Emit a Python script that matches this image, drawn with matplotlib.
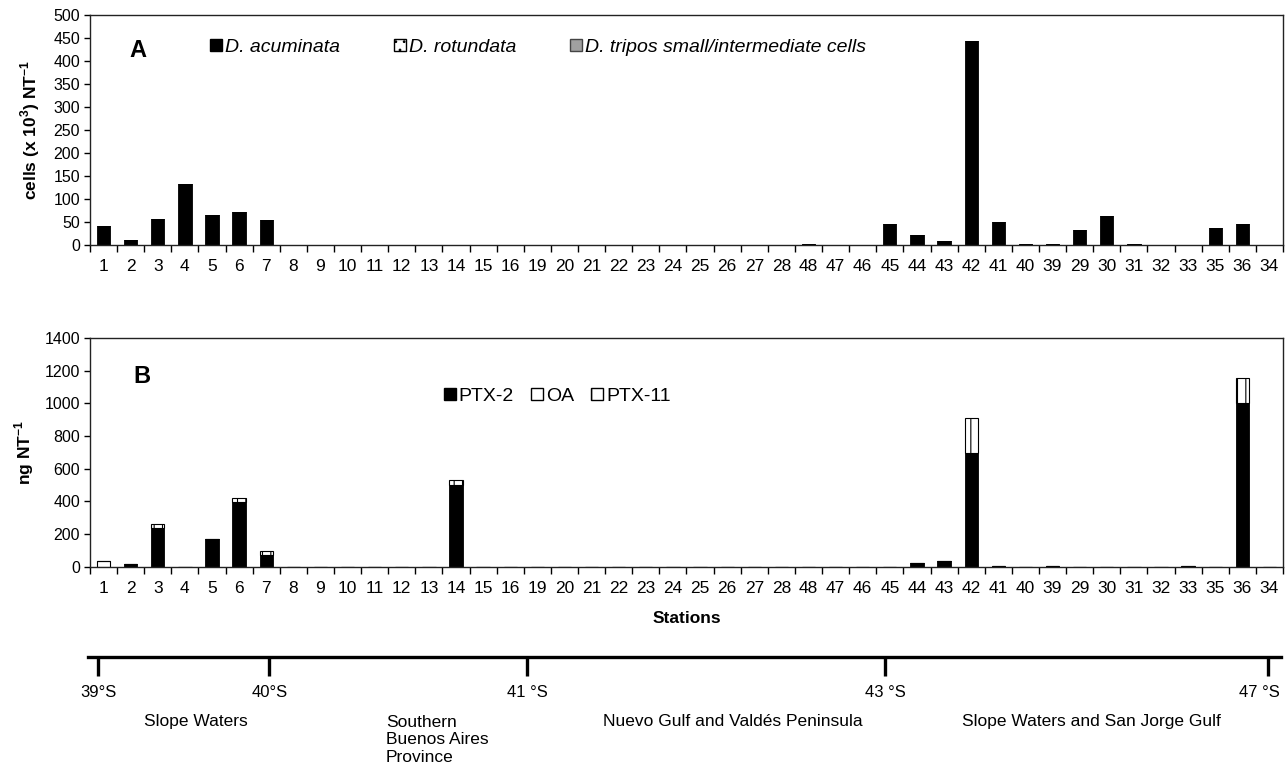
import matplotlib.pyplot as plt
import numpy as np
from matplotlib.patches import Patch
from matplotlib.transforms import ScaledTranslation

plt.rcParams['font.family'] = ['Liberation Sans', 'DejaVu Sans']
plt.rcParams['mathtext.fontset'] = 'custom'
plt.rcParams['mathtext.rm'] = 'Liberation Sans'
plt.rcParams['mathtext.bf'] = 'Liberation Sans:bold'
plt.rcParams['hatch.linewidth'] = 0.8

# stations in the order they appear along the coast
stations = ['1', '2', '3', '4', '5', '6', '7', '8', '9', '10', '11', '12', '13', '14', '15', '16',
            '19', '20', '21', '22', '23', '24', '25', '26', '27', '28',
            '48', '47', '46', '45', '44', '43', '42', '41', '40', '39',
            '29', '30', '31', '32', '33', '35', '36', '34']

# panel A: cells (x 10^3) per net tow
acuminata = [42, 12, 56, 133, 65, 72, 54, 0, 0, 0, 0, 0, 0, 0, 0, 0,
             0, 0, 0, 0, 0, 0, 0, 0, 0, 0,
             3, 0, 0, 45, 22, 9, 445, 51, 3, 3,
             33, 63, 3, 0, 0, 38, 45, 0]
rotundata = [0] * 44
tripos = [0] * 44

# panel B: toxins ng per net tow
ptx2 = [0, 15, 235, 0, 168, 395, 70, 0, 0, 0, 0, 0, 0, 500, 0, 0,
        0, 0, 0, 0, 0, 0, 0, 0, 0, 0,
        0, 0, 0, 0, 25, 35, 695, 5, 0, 5,
        0, 0, 0, 0, 5, 0, 1000, 0]
oa = [35, 0, 0, 0, 0, 0, 0, 0, 0, 0, 0, 0, 0, 0, 0, 0,
      0, 0, 0, 0, 0, 0, 0, 0, 0, 0,
      0, 0, 0, 0, 0, 0, 0, 0, 0, 0,
      0, 0, 0, 0, 0, 0, 0, 0]
ptx11 = [0, 0, 25, 0, 0, 25, 25, 0, 0, 0, 0, 0, 0, 30, 0, 0,
         0, 0, 0, 0, 0, 0, 0, 0, 0, 0,
         0, 0, 0, 0, 0, 0, 215, 0, 0, 0,
         0, 0, 0, 0, 0, 0, 155, 0]

# latitude scale below (position in station units)
lat_labels = ['39°S', '40°S', '41 °S', '43 °S', '47 °S']
lat_pos = [-0.2, 6.1, 15.6, 28.8, 42.9]
regions = ['Slope Waters', 'Southern\nBuenos Aires\nProvince',
           'Nuevo Gulf and Valdés Peninsula', 'Slope Waters and San Jorge Gulf']
region_pos = [3.4, 10.4, 23.2, 36.4]

x = np.arange(len(stations))
w = 0.49

fig = plt.figure(figsize=(12.87, 7.66), dpi=100)
axA = fig.add_axes([0.0699, 0.680, 0.9270, 0.300])
axB = fig.add_axes([0.0699, 0.2602, 0.9270, 0.2985])
axL = fig.add_axes([0.0684, 0.0, 0.9270, 0.1423])


def style_axis(ax):
    ax.set_xlim(-0.5, len(stations) - 0.5)
    ax.set_xticks(x)
    ax.set_xticklabels(stations)
    ax.set_xticks(np.arange(-0.5, len(stations)), minor=True)
    ax.tick_params(axis='x', which='major', length=0, pad=10, labelsize=12.5)
    ax.tick_params(axis='x', which='minor', length=5, width=1, direction='out')
    ax.tick_params(axis='y', length=4, width=1, pad=3, labelsize=11.5)
    for s in ax.spines.values():
        s.set_linewidth(1)
        s.set_color('#222222')


# Panel A
a0 = np.array(acuminata)
a1 = np.array(rotundata)
a2 = np.array(tripos)
axA.bar(x, a0, w, color='black', edgecolor='black', linewidth=0.6)
axA.bar(x, a1, w, bottom=a0, color='white', edgecolor='black', hatch='..', linewidth=0.6)
axA.bar(x, a2, w, bottom=a0 + a1, color='#a0a0a0', edgecolor='black', linewidth=0.6)
axA.set_ylim(0, 500)
axA.set_yticks(np.arange(0, 501, 50))
style_axis(axA)
axA.set_ylabel(r'cells (x 10$^{\mathbf{3}}$) NT$^{\mathbf{-1}}$', fontweight='bold', fontsize=12.5,
               labelpad=8)
axA.text(0.033, 0.845, 'A', transform=axA.transAxes, fontsize=17, fontweight='bold',
         ha='left', va='center')
hA = [Patch(facecolor='black', edgecolor='black'),
      Patch(facecolor='white', edgecolor='black', hatch='..'),
      Patch(facecolor='#a0a0a0', edgecolor='#444444')]
axA.legend(hA, ['D. acuminata', 'D. rotundata', 'D. tripos small/intermediate cells'],
           loc='center left', bbox_to_anchor=(0.086, 0.86), ncol=3, frameon=False,
           handlelength=0.6, handleheight=0.6, handletextpad=0.15, columnspacing=2.8,
           prop={'style': 'italic', 'size': 14})

# Panel B
b0 = np.array(ptx2)
b1 = np.array(oa)
b2 = np.array(ptx11)
axB.bar(x, b0, w, color='black', edgecolor='black', linewidth=0.6)
axB.bar(x, b1, w, bottom=b0, color='white', edgecolor='black', linewidth=0.8)
axB.bar(x, b2, w, bottom=b0 + b1, color='white', edgecolor='black', hatch='||', linewidth=0.8)
axB.set_ylim(0, 1400)
axB.set_yticks(np.arange(0, 1401, 200))
style_axis(axB)
axB.set_ylabel(r'ng NT$^{\mathbf{-1}}$', fontweight='bold', fontsize=12.5, labelpad=6)
axB.set_xlabel('Stations', fontweight='bold', fontsize=12.5, labelpad=11)
axB.text(0.036, 0.83, 'B', transform=axB.transAxes, fontsize=17, fontweight='bold',
         ha='left', va='center')
hB = [Patch(facecolor='black', edgecolor='black'),
      Patch(facecolor='white', edgecolor='black'),
      Patch(facecolor='white', edgecolor='black', hatch='|')]
axB.legend(hB, ['PTX-2', 'OA', 'PTX-11'], loc='center left', bbox_to_anchor=(0.282, 0.745),
           ncol=3, frameon=False, handlelength=0.6, handleheight=0.6, handletextpad=0.15,
           columnspacing=0.9, prop={'size': 14})

# latitude scale
axL.set_xlim(-0.58, len(stations) - 0.6)
axL.set_ylim(0, 1)
for k in ['left', 'right', 'top']:
    axL.spines[k].set_visible(False)
axL.spines['bottom'].set_position(('axes', 1.0))
axL.spines['bottom'].set_linewidth(2.4)
axL.set_yticks([])
axL.set_xticks(lat_pos)
axL.set_xticklabels(lat_labels)
axL.tick_params(axis='x', direction='out', length=14, width=2.4, pad=6, labelsize=12)
last = axL.get_xticklabels()[-1]
last.set_ha('right')
last.set_transform(last.get_transform() + ScaledTranslation(9 / 72, 0, fig.dpi_scale_trans))
for p, r in zip(region_pos, regions):
    if '\n' in r:
        axL.text(p, 0.47, r, ha='left', va='top', fontsize=12.5, linespacing=1.2,
                 transform=axL.get_xaxis_transform())
    else:
        axL.text(p, 0.41, r, ha='center', va='center', fontsize=12.5,
                 transform=axL.get_xaxis_transform())

fig.savefig('out.png', dpi=100)
